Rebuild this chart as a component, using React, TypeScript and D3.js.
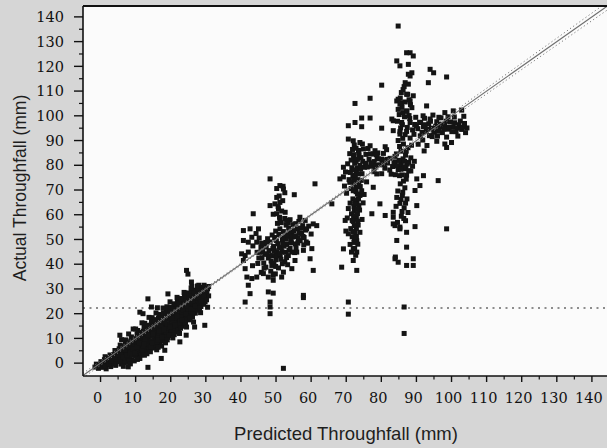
import React, { useEffect, useRef } from "react";
import * as d3 from "d3";

type Pt = [number, number];

// axis ticks
const xTicks = [0, 10, 20, 30, 40, 50, 60, 70, 80, 90, 100, 110, 120, 130, 140];
const yTicks = [0, 10, 20, 30, 40, 50, 60, 70, 80, 90, 100, 110, 120, 130, 140];
const xMinor = [5, 15, 25, 35, 45, 55, 65, 75, 85, 95, 105, 115, 125, 135];
const yMinor = [5, 15, 25, 35, 45, 55, 65, 75, 85, 95, 105, 115, 125, 135];

// 1:1 line, confidence limits and the horizontal cut-off
const oneToOne: Pt[] = [[-5, -5], [144.4, 144.4]];
const upperLimit: Pt[] = [[-5, -4.1], [50, 50.3], [144.4, 146]];
const lowerLimit: Pt[] = [[-5, -5.9], [50, 49.7], [144.4, 142.8]];
const cutoff = 22.3;

// dense band of small events (0-30 mm)
const lowBand: Pt[] = [
  [-1.6, -1.6], [-1.2, -0.4], [-0.6, -2.1], [-0.3, -0.9], [0.1, 0.6], [0.4, -1.7], [0.8, -0.2], [1.1, 1.4],
  [1.3, 2.6], [1.6, -2.3], [1.9, -0.6], [2.2, 0.9], [2.4, 2.1], [2.7, 3.3], [2.9, -1.4], [3.3, 0.1],
  [3.5, 1.7], [3.8, 3.5], [4.1, 5.1], [4.3, -0.9], [4.6, 0.9], [4.9, 2.6], [5.1, 4.2], [5.3, 5.8],
  [5.6, 7.3], [5.8, -0.4], [6.1, 1.4], [6.3, 3.1], [6.6, 4.8], [6.8, 6.4], [7.1, 8.1], [7.2, 9.4],
  [7.4, 0.3], [7.7, 2.1], [7.9, 3.9], [8.1, 5.5], [8.3, 7.2], [8.6, 8.9], [8.8, 10.6], [9, 1.3],
  [9.3, 3.2], [9.5, 4.8], [9.7, 6.6], [9.9, 8.3], [10.2, 9.9], [10.4, 11.7], [10.6, 13.2], [10.8, 2.5],
  [11.1, 4.3], [11.3, 6], [11.5, 7.7], [11.7, 9.5], [12, 11.2], [12.2, 12.9], [12.4, 14.6], [12.6, 16.1],
  [12.9, 4.9], [13.1, 6.7], [13.3, 8.4], [13.6, 10.1], [13.8, 11.9], [14, 13.6], [14.2, 15.3], [14.5, 17],
  [14.7, 18.4], [15, 6.1], [15.2, 7.8], [15.4, 9.6], [15.6, 11.3], [15.8, 13], [16.1, 14.8], [16.3, 16.5],
  [16.5, 18.2], [16.7, 19.7], [17, 7.8], [17.2, 9.5], [17.4, 11.2], [17.6, 13], [17.9, 14.7], [18.1, 16.4],
  [18.3, 18.1], [18.5, 19.9], [18.7, 21.4], [18.9, 22.8], [19.2, 10.4], [19.4, 12.1], [19.6, 13.9], [19.8, 15.6],
  [20.1, 17.3], [20.3, 19.1], [20.5, 20.8], [20.7, 22.5], [20.9, 24], [21.2, 12.6], [21.4, 14.3], [21.6, 16.1],
  [21.8, 17.8], [22, 19.5], [22.3, 21.3], [22.5, 23], [22.7, 24.7], [22.9, 26.1], [23.2, 14.9], [23.4, 16.6],
  [23.6, 18.4], [23.8, 20.1], [24.1, 21.8], [24.3, 23.6], [24.5, 25.3], [24.7, 27], [24.9, 28.4], [25.2, 17.5],
  [25.4, 19.3], [25.6, 21], [25.8, 22.8], [26.1, 24.5], [26.3, 26.2], [26.5, 27.9], [26.7, 29.5], [27, 20.2],
  [27.2, 22], [27.4, 23.7], [27.6, 25.4], [27.9, 27.2], [28.1, 28.9], [28.3, 30.3], [28.6, 22.9], [28.8, 24.6],
  [29, 26.3], [29.2, 28.1], [29.5, 29.7], [29.8, 24.8], [30, 26.6], [30.2, 28.4], [30.5, 30.1],
  [0.5, 0.3], [1.2, -1.1], [2.3, -0.2], [3.1, 2.6], [3.9, -0.3], [4.2, 1.6], [4.5, 3.4], [5.4, 1.8],
  [5.7, 3.6], [5.9, 5.2], [6.2, -0.1], [6.5, 6.9], [6.9, 2.2], [7.3, 4.6], [7.6, 6.2], [7.8, 8.2],
  [8.2, 1.1], [8.4, 3], [8.7, 4.7], [9.1, 7.5], [9.4, 9.3], [9.6, 0.9], [10, 2.9], [10.1, 5.6],
  [10.3, 7.3], [10.7, 9.1], [11, 10.8], [11.4, 12.4], [11.6, 3.4], [11.9, 5.2], [12.1, 6.9], [12.3, 8.6],
  [12.7, 10.4], [13, 12.1], [13.2, 13.8], [13.5, 15.3], [13.9, 5.7], [14.1, 7.4], [14.4, 9.1], [14.6, 10.9],
  [14.9, 12.6], [15.1, 14.3], [15.3, 16], [15.5, 17.6], [15.9, 7], [16.2, 8.7], [16.4, 10.4], [16.6, 12.2],
  [16.9, 13.9], [17.1, 15.6], [17.3, 17.4], [17.7, 19], [17.9, 20.4], [18.2, 9.1], [18.4, 10.8], [18.6, 12.6],
  [18.8, 14.3], [19, 16], [19.3, 17.8], [19.5, 19.5], [19.7, 21.2], [20, 22.6], [20.2, 11.5], [20.4, 13.2],
  [20.6, 14.9], [20.8, 16.7], [21.1, 18.4], [21.3, 20.1], [21.5, 21.9], [21.7, 23.6], [21.9, 25], [22.2, 13.7],
  [22.4, 15.4], [22.6, 17.2], [22.8, 18.9], [23.1, 20.6], [23.3, 22.4], [23.5, 24.1], [23.7, 25.8], [23.9, 27.1],
  [24.2, 16], [24.4, 17.7], [24.6, 19.5], [24.8, 21.2], [25, 22.9], [25.3, 24.6], [25.5, 26.4], [25.7, 28.1],
  [25.9, 29.3], [26.2, 18.6], [26.4, 20.3], [26.6, 22], [26.8, 23.8], [27.1, 25.5], [27.3, 27.2], [27.5, 29],
  [27.8, 21.4], [28, 23.2], [28.2, 24.9], [28.5, 26.6], [28.7, 28.4], [29.1, 30.6], [29.4, 23.8], [29.6, 25.6],
  [29.9, 27.4], [30.3, 29.1], [30.8, 27.2],
  [3, 1], [4, 2.5], [5, 3.3], [5.5, 0.6], [6.4, 2.3], [7, 5.4], [7.5, 3.1], [8, 6.7],
  [8.5, 4.1], [9, 9.6], [9.2, 5.8], [9.8, 3.9], [10.5, 6.4], [10.9, 8.2], [11.2, 1.9], [11.6, 11.6],
  [12, 4.2], [12.5, 7.8], [12.8, 9.6], [13.2, 3.8], [13.4, 11.2], [13.8, 14.6], [14.3, 6.4], [14.8, 8.3],
  [15, 11.9], [15.6, 15.2], [16, 5.4], [16.3, 9.5], [16.6, 13.1], [16.9, 16.6], [17.4, 6.9], [17.5, 10.4],
  [18, 13.6], [18.3, 17.1], [18.7, 19], [19, 9.4], [19.6, 11.2], [19.9, 14.8], [20.3, 18.2], [20.6, 21.7],
  [21, 11.5], [21.3, 15.3], [21.7, 19], [22, 22.5], [22.3, 24.2], [22.8, 14.1], [23.2, 17.6], [23.5, 21.3],
  [23.9, 24.8], [24.3, 19.9], [24.7, 23.1], [25.1, 26.1], [25.5, 18.4], [25.8, 21.8], [26.2, 25.2], [26.6, 28.6],
  [27, 23.2], [27.4, 26.4], [27.8, 29.8], [28.2, 22.1], [28.6, 25.2], [29, 28.9], [29.4, 27], [29.8, 29],
  [30.2, 25.6], [26, 31], [28, 31.5],
  [10.5, 1.5], [12.5, 3.2], [14.2, 4.6], [16.4, 6.4], [18.5, 8.2], [20.6, 10.2], [22.5, 12], [24.5, 14.6],
  [26.5, 16.6], [28.5, 20.4], [30.5, 22.6], [8.5, -0.3], [6.5, -1.3], [6, 9.5], [8, 11.8], [10, 13.8],
  [11.8, 16.3], [13.8, 18.5], [15.8, 20.3], [17.8, 22.3], [19.8, 24.8], [21.8, 26.6], [23.8, 28.6], [25.8, 30.4],
  [27.6, 31.2],
  [24.5, 37.5], [24.9, 36], [25.9, 32.8], [13.5, 26], [14.5, 22.7], [11.2, 20.6], [12.1, 20], [5.5, 11.3],
  [29.7, 15.3], [26.8, 14.6], [24.4, 11.3], [22.6, 8.6], [18.3, 5.2], [17.3, 1.9], [13.5, -1.7], [7.9, -1.5],
  [19.2, 28], [23, 26], [27.8, 26.7], [29.5, 31.5], [30.8, 31], [16.2, 22.4], [9.3, 13.8],
];

// cluster around 50 mm
const midCluster: Pt[] = [
  [46.5, 40.5], [46.8, 44], [47.2, 47], [47.8, 42.5], [48, 45.5], [48.3, 49], [48.8, 39.5], [49, 43.5],
  [49.3, 47.2], [49.6, 50.8], [50, 41.8], [50.2, 45], [50.5, 48.3], [50.8, 52], [51.2, 43.5], [51.5, 46.6],
  [51.8, 49.8], [52.1, 53.2], [52.5, 41], [52.7, 44.8], [53, 48], [53.3, 51.3], [53.6, 54.6], [54, 46.5],
  [54.2, 49.7], [54.5, 52.8], [54.9, 56], [55.3, 44.7], [55.5, 48.2], [55.8, 51.2], [56.1, 54.3], [56.5, 57.3],
  [56.9, 49.5], [57.2, 52.6], [57.6, 55.6], [58, 50.8], [58.4, 53.8], [59, 48.5], [59.3, 55.4], [60, 52.2],
  [50.4, 56.5], [51, 59], [51.6, 61.5], [50.6, 63.3], [51.9, 65.7], [50.9, 67.6], [52.5, 68.9], [52, 71.5],
  [50.2, 70.6], [49.2, 60.2], [45.2, 50.6], [44.3, 52.4], [45.7, 46.8], [44.6, 44.8], [43.4, 47.4], [46, 42.6],
  [44.8, 40.3], [43.3, 39.4], [45.8, 36.7], [47.1, 38.8], [48.5, 37.2], [49.8, 36.1], [50.7, 38.5], [53.3, 39.8],
  [47.5, 44.2], [48.6, 41.3], [49.5, 45.5], [50.3, 43.4], [50.9, 46.8], [51.7, 45], [52.3, 47.3], [52.9, 50.1],
  [53.8, 52.7], [54.6, 50.9], [55.1, 53.6], [55.7, 46.5], [56.3, 50.4], [57, 54.6], [53.5, 43.5], [52, 50.6],
  [51.1, 54.3], [49.9, 53.4], [48.9, 51.8], [47.6, 50.3], [46.4, 47.5], [45.4, 44.8], [54, 58], [55.6, 56.4],
  [52.9, 55.8], [58.6, 49], [57.9, 47.8], [46.6, 38.4], [49.4, 40.5], [51.8, 40.2],
  [48.2, 43.4], [49.1, 46.3], [50.1, 49.6], [51, 44.3], [51.9, 48.1], [52.8, 51.9], [53.7, 45.6], [54.4, 48.7],
  [55.3, 51.5], [56.2, 48.5], [49.9, 39.1], [51.4, 42], [53, 42.7], [54.7, 44.9], [56.6, 52.6], [57.7, 51.2],
  [47.1, 48.8], [46.2, 45.1], [45.1, 42.5], [53.5, 56.7], [52.5, 58.5], [51.5, 56.8],
  [48.3, 74.5], [61.1, 72.5], [51.1, 71.8], [52.1, 70.4], [55.2, 68.1], [50.2, 67], [51.1, 65], [49.7, 64.4],
  [48.3, 63.7], [50.7, 62.4], [52.6, 61], [50.2, 60.4], [43.5, 60.4], [51.1, 58.3], [53, 57.7], [56.8, 59],
  [58.3, 57.7], [60.6, 56.3], [61.6, 55.6], [40.7, 53.6], [42.6, 54.3], [45, 54.3], [40.7, 49.6], [43.1, 50.9],
  [42.1, 48.9], [44.5, 48.9], [45.9, 48.5], [57.3, 52.3], [58.7, 54.3], [60.2, 46.3], [57.8, 45.6], [55.9, 44.9],
  [59.7, 42.2], [55.4, 41.5], [60.6, 37.5], [54.5, 38.2], [40.2, 44.2], [41.2, 43.5], [42.1, 44.9], [40.7, 41.5],
  [41.2, 38.2], [41.7, 34.8], [43.1, 34.2], [44.5, 34.8], [42.1, 31.5], [46.4, 36.2], [47.8, 34.8], [49.2, 33.5],
  [49.2, 35.5], [51.6, 34.8], [52.1, 36.8], [47.8, 28.8], [49.2, 28.3], [57.8, 27.4], [57.8, 26.5], [42.6, 28.1],
  [41.2, 24.7], [48.3, 24.7], [48.3, 22.7], [48.3, 20], [52.1, -2.1],
];

// column around 72 mm and the band at 80 mm
const colCluster: Pt[] = [
  [72.3, 88.2], [73.5, 86], [72.1, 84.3], [74.2, 83.1], [72.8, 81.6], [73.9, 80], [71.6, 79], [72.9, 77.8],
  [74.5, 76.6], [71.9, 75.7], [73.3, 74.2], [72.2, 72.6], [74, 71.4], [71.4, 70.6], [72.8, 69.3], [73.9, 67.8],
  [71.9, 66.4], [73.1, 64.9], [72.2, 63.3], [73.8, 61.9], [71.5, 60.4], [72.9, 59], [72, 57.3], [73.4, 55.8],
  [71.3, 54.4], [72.5, 52.9], [71.7, 51.1], [73, 49.5], [71.1, 48], [72.4, 46.4], [70.6, 62.5], [70.1, 68.7],
  [70.8, 74.2], [70.4, 80.6], [71, 84.7], [74.6, 88.6], [75.6, 84.4], [75.2, 79.2], [75.8, 73.3], [75.1, 68.2],
  [74.8, 64.8], [74.5, 58.1], [69.5, 71.6], [69.8, 77.3], [70.3, 58.7], [69.9, 53.4],
  [72.8, 86.9], [73.6, 84.1], [72.4, 80.8], [73.1, 78.9], [72.6, 75.9], [73.6, 73.1], [72.7, 70.8], [73.2, 68.4],
  [72.5, 65.9], [73.6, 63.7], [72.3, 61.4], [73.2, 60.4], [72.6, 58.2], [72.9, 54.5], [72.3, 50.4], [71.8, 86.4],
  [74.7, 81.6], [71.2, 77.1], [74.4, 69.7], [71.1, 64.7], [74.3, 73.9], [71.7, 57.7], [72.7, 43.6], [71.5, 44.9],
  [73.3, 48.1],
  [72.1, 82.6], [73.2, 82.4], [72.4, 78.1], [73.5, 76.5], [72.1, 74.2], [73, 71.9], [72, 69.7], [73.5, 66.5],
  [72.4, 64.3], [73.1, 62.3], [72.1, 59.5], [73.3, 57.4], [72.3, 55.6], [71.9, 53.2], [72.9, 51.2], [72.2, 48.8],
  [73.6, 85], [71.4, 82.1], [71, 73.1], [74.1, 78.5],
  [72.5, 105], [76.8, 107.1], [80.1, 112.4], [74.4, 99.1], [76.8, 99.1], [72.5, 97.3], [70.6, 96], [74.4, 95.6],
  [80.1, 95], [70.6, 90.6], [72, 89.9], [73.9, 89.2], [76.8, 87.9], [74.9, 86.6], [77.7, 84.6], [81.1, 87.5],
  [69.2, 79.2], [68.2, 74.5], [69.7, 57.7], [70.6, 52.3], [69.2, 46.2], [72, 46.2], [73, 44.9], [72, 41.5],
  [73, 37.5], [68.7, 38.8], [73.9, 52.9], [70.6, 24.7], [70.6, 19.8], [65.9, 64.4], [77.7, 71.1], [79.6, 64.4],
  [81.1, 59.7], [77.3, 60.4], [83.4, 59], [84.4, 49.6], [84, 42.9], [87.2, 46.9], [69.2, 75.3],
  [78.2, 85.9], [80.1, 82.5], [78.2, 79.2], [78.7, 76.5], [84.4, 67], [83.9, 55.6], [85.3, 54.3],
  [75.5, 80.8], [76.5, 82.4], [77.2, 79.6], [78, 81.5], [78.8, 83.2], [79.5, 80.2], [80.3, 82], [81, 78.8],
  [81.8, 80.9], [82.5, 82.8], [83.2, 79.5], [84, 81.4], [84.8, 78.2], [85.5, 80.3], [86.2, 82.6], [87, 79.3],
  [87.8, 81.2], [88.4, 77.7], [77.9, 77.4], [80.1, 76.6], [82.8, 76.4], [85.2, 75.8], [79, 85], [81.5, 86.3],
  [76.2, 86.8],
  [76, 79.3], [77, 81], [78.4, 79.9], [79.2, 82.6], [80.8, 80.3], [81.6, 82.4], [82.4, 78.1], [83.6, 80.9],
  [84.4, 79.7], [85.9, 81.8], [86.6, 78.6], [87.4, 80.5], [88.9, 79.6], [89.4, 81.6], [76.9, 84.6], [78.5, 84.3],
  [80.6, 84.8], [83.9, 83.6],
];

// upper cluster 85-105 mm
const highCluster: Pt[] = [
  [86.2, 110.6], [87.5, 108.7], [85.4, 107.2], [86.8, 105.6], [88.3, 104.5], [85.9, 103.4], [87.3, 101.8], [85.1, 100.5],
  [86.6, 99.6], [88.1, 98.9], [84.6, 97.8], [86, 96.4], [87.4, 95.3], [85.3, 93.6], [86.8, 92.4], [88.2, 91],
  [84.8, 90], [86.3, 88.6], [87.6, 87.1], [85.6, 85.7], [86.9, 84.1], [88.4, 83], [85.1, 82], [86.4, 79.4],
  [87.8, 77.8], [85.9, 76.1], [87.1, 74.4], [85.4, 72.5], [86.7, 70.9], [84.7, 69.6], [86, 67.8], [87.3, 66.4],
  [85.3, 64.6], [86.5, 62.8], [84.2, 63.4], [87.6, 60.9], [85.7, 59.4], [86.9, 57.6], [84.6, 56.9],
  [86.5, 111.8], [85.7, 109.4], [87.9, 106.5], [86.1, 101.3], [87.9, 100.1], [85.5, 95.1], [87.2, 93.7], [86.1, 90.9],
  [85.2, 87.6], [87.1, 85.7], [86.6, 81.6], [85.6, 78.4], [87.2, 76], [86.3, 73.6], [86.1, 69.1], [85.6, 66.2],
  [86.9, 64.7], [85.9, 61.3], [86.4, 58.5], [88.6, 88.1], [84.3, 84.6], [84, 76.2],
  [89.5, 96.5], [90.4, 94.8], [91.2, 97.3], [92, 95.6], [92.8, 93.7], [93.5, 96.8], [94.3, 95], [95.1, 93.4],
  [95.8, 97.6], [96.6, 95.4], [97.4, 93.2], [98.1, 96.3], [98.9, 94.6], [99.7, 97.5], [100.5, 95.5], [101.3, 93.6],
  [102.1, 96.4], [102.9, 94.5], [103.7, 96.9], [104.4, 95.1], [100.8, 99.5], [98.6, 91.4], [96, 91.8], [93.7, 92],
  [91.1, 91.9], [89.8, 99.4], [101.8, 91.8], [97, 99.2], [103.5, 99.8], [94.7, 100.3],
  [90, 95.9], [90.9, 97.4], [91.6, 93.3], [92.5, 96.4], [93.2, 94.6], [94, 97.8], [94.8, 93.6], [95.5, 95.8],
  [96.3, 93.8], [97.1, 96.6], [97.8, 94.6], [98.5, 97.8], [99.3, 95.3], [100.1, 93.6], [100.9, 97.2], [101.7, 95],
  [102.5, 97.9], [103.3, 95.4], [104, 93.2], [99, 99.6], [96.4, 99.4], [92.3, 99], [88.9, 94.3], [89.3, 92.5],
  [90.5, 88.5], [91.8, 90.2], [93, 88], [94.5, 91.6], [92.2, 85.8], [95.8, 89.7],
  [84.8, 136.3], [88.2, 125.5], [89.1, 124.2], [84.4, 122.2], [87.7, 120.8], [85.3, 120.2], [93.9, 118.8], [94.9, 117.4],
  [98.6, 115.7], [88.7, 117.4], [88.2, 116.1], [93.4, 113.4], [86.8, 113.4], [87.7, 112.8], [87.2, 108.7], [89.1, 108.1],
  [84.8, 106.7], [85.8, 105.3], [88.2, 106], [92.9, 104], [100.5, 102], [102.9, 102.3], [84.8, 102.6], [87.2, 102],
  [88.7, 103.3], [91.9, 100], [93.9, 98.7], [98.1, 101.3], [83.4, 98], [85.8, 97.3], [88.2, 97.3], [98.1, 88.6],
  [100, 89.2], [98.6, 87.2], [90.1, 74.5], [92, 75.8], [96.2, 73.8], [89.6, 69.8], [91, 71.8], [90.1, 63.7],
  [83.4, 61], [83.4, 56.3], [85.3, 55], [87.2, 52.9], [89.6, 55.2], [98.6, 54.3], [83.9, 42.2], [84.8, 40.8],
  [87.2, 39.5], [89.1, 42.2], [89.1, 39.5], [86.5, 22.7], [86.5, 12], [87.2, 125.5], [87.7, 116.8],
  [84.4, 106], [85.3, 104.7], [83, 98.7], [83.4, 94], [85.3, 92.6],
];

function App() {
  const chartRef = useRef<HTMLDivElement>(null);

  useEffect(() => {
    const width = 607;
    const height = 448;
    const left = 83;
    const right = 607;
    const top = 6;
    const bottom = 376;

    const x = d3.scaleLinear().domain([-5, 144.3]).range([left, right]);
    const y = d3.scaleLinear().domain([-5.2, 144.4]).range([bottom, top]);

    d3.select(chartRef.current).select("svg").remove();

    const svg = d3.select(chartRef.current)
      .append("svg")
      .attr("width", width)
      .attr("height", height)
      .attr("viewBox", [0, 0, width, height])
      .attr("style", "position:absolute;left:0;top:0;display:block");

    svg.append("rect").attr("width", width).attr("height", height).attr("fill", "#d6d6d6");
    svg.append("rect")
      .attr("x", left).attr("y", top)
      .attr("width", right - left).attr("height", bottom - top)
      .attr("fill", "#fbfbfb");

    const clip = svg.append("clipPath").attr("id", "plot-clip");
    clip.append("rect").attr("x", left).attr("y", top).attr("width", right - left).attr("height", bottom - top);

    const plot = svg.append("g").attr("clip-path", "url(#plot-clip)");
    const line = d3.line<Pt>().x(d => x(d[0])).y(d => y(d[1]));

    // horizontal dotted cut-off
    plot.append("line")
      .attr("x1", left).attr("x2", right)
      .attr("y1", y(cutoff)).attr("y2", y(cutoff))
      .attr("stroke", "#6a6a6a").attr("stroke-width", 1.3)
      .attr("stroke-dasharray", "2 4.5");

    // points
    const all = [...lowBand, ...midCluster, ...colCluster, ...highCluster];
    const s = 5;
    plot.selectAll("rect.pt")
      .data(all)
      .enter()
      .append("rect")
      .attr("class", "pt")
      .attr("x", d => x(d[0]) - s / 2)
      .attr("y", d => y(d[1]) - s / 2)
      .attr("width", s)
      .attr("height", s)
      .attr("fill", "#141414");

    // 1:1 line and limits
    plot.append("path").attr("d", line(oneToOne))
      .attr("fill", "none").attr("stroke", "#6e6e6e").attr("stroke-width", 1.1);
    [upperLimit, lowerLimit].forEach(l => {
      plot.append("path").attr("d", line(l))
        .attr("fill", "none").attr("stroke", "#7a7a7a").attr("stroke-width", 1)
        .attr("stroke-dasharray", "1.2 2.6");
    });

    // frame
    svg.append("line").attr("x1", left).attr("x2", right).attr("y1", top).attr("y2", top)
      .attr("stroke", "#111").attr("stroke-width", 2);
    svg.append("line").attr("x1", left).attr("x2", left).attr("y1", top).attr("y2", bottom)
      .attr("stroke", "#111").attr("stroke-width", 1.6);
    svg.append("line").attr("x1", left).attr("x2", right).attr("y1", bottom).attr("y2", bottom)
      .attr("stroke", "#111").attr("stroke-width", 1.6);

    // x ticks
    svg.selectAll("line.xmaj").data(xTicks).enter().append("line")
      .attr("x1", d => x(d)).attr("x2", d => x(d))
      .attr("y1", bottom).attr("y2", bottom + 6)
      .attr("stroke", "#111").attr("stroke-width", 1.4);
    svg.selectAll("line.xmin").data(xMinor).enter().append("line")
      .attr("x1", d => x(d)).attr("x2", d => x(d))
      .attr("y1", bottom).attr("y2", bottom + 3.5)
      .attr("stroke", "#111").attr("stroke-width", 1.2);
    svg.selectAll("text.xlab").data(xTicks).enter().append("text")
      .attr("x", d => x(d) - 3).attr("y", bottom + 27)
      .attr("text-anchor", "middle")
      .attr("font-family", "'DejaVu Serif', serif")
      .attr("font-size", "14.5px")
      .attr("fill", "#111")
      .text(d => d);

    // y ticks
    svg.selectAll("line.ymaj").data(yTicks).enter().append("line")
      .attr("x1", left - 9).attr("x2", left)
      .attr("y1", d => y(d)).attr("y2", d => y(d))
      .attr("stroke", "#111").attr("stroke-width", 1.4);
    svg.selectAll("line.ymin").data(yMinor).enter().append("line")
      .attr("x1", left - 4).attr("x2", left)
      .attr("y1", d => y(d)).attr("y2", d => y(d))
      .attr("stroke", "#111").attr("stroke-width", 1.2);
    svg.selectAll("text.ylab").data(yTicks).enter().append("text")
      .attr("x", 64).attr("y", d => y(d))
      .attr("dy", "0.36em")
      .attr("text-anchor", "end")
      .attr("font-family", "'DejaVu Serif', serif")
      .attr("font-size", "14.5px")
      .attr("fill", "#111")
      .text(d => d);

    // axis titles
    svg.append("text")
      .attr("x", 346).attr("y", 440)
      .attr("text-anchor", "middle")
      .attr("font-family", "'Liberation Sans', Arial, sans-serif")
      .attr("font-size", "18.5px")
      .attr("fill", "#1e1e1e")
      .text("Predicted Throughfall (mm)");
    svg.append("text")
      .attr("transform", "translate(26,188) rotate(-90)")
      .attr("text-anchor", "middle")
      .attr("font-family", "'Liberation Sans', Arial, sans-serif")
      .attr("font-size", "17.5px")
      .attr("fill", "#1e1e1e")
      .text("Actual Throughfall (mm)");
  }, []);

  return <div ref={chartRef}></div>;
}

export default App;
